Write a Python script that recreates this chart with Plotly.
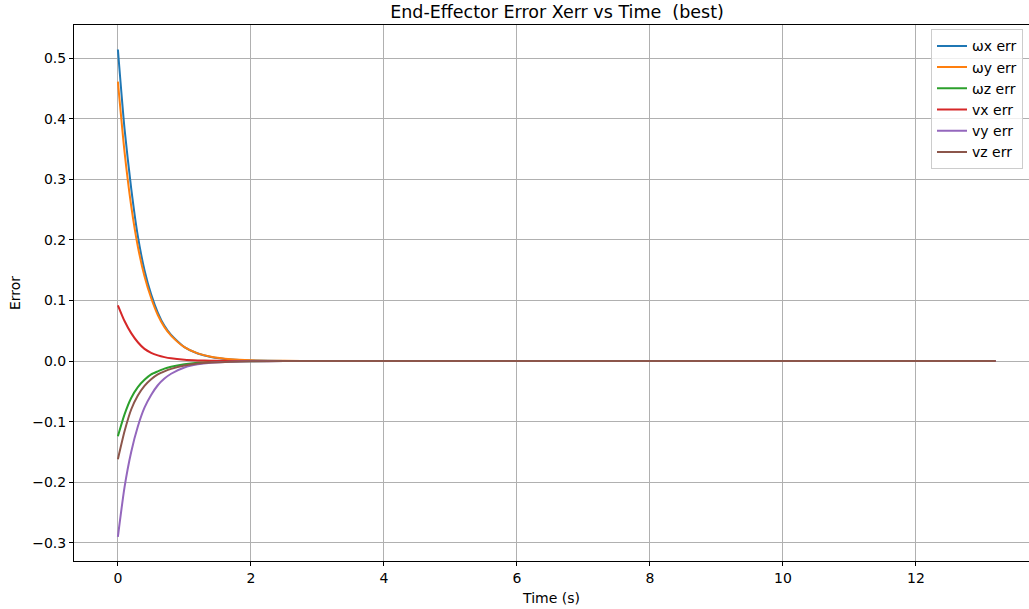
import plotly.graph_objects as go

time_s = [0, 0.1, 0.2, 0.3, 0.4, 0.5, 0.6, 0.7, 0.8, 1.0, 1.2, 1.4, 1.7, 2.0, 2.5, 3.0, 4.0, 6.0, 8.0, 10.0, 12.0, 13.2]

wx_err = [0.514, 0.383, 0.285, 0.206, 0.150, 0.110, 0.080, 0.058, 0.043, 0.023, 0.0124, 0.0067, 0.0026, 0.0010, 0.0002, 0.00005, 0, 0, 0, 0, 0, 0]
wy_err = [0.461, 0.345, 0.256, 0.189, 0.140, 0.104, 0.076, 0.056, 0.042, 0.023, 0.0126, 0.0069, 0.0028, 0.0011, 0.00025, 0.00006, 0, 0, 0, 0, 0, 0]
wz_err = [-0.124, -0.088, -0.061, -0.043, -0.031, -0.022, -0.017, -0.0125, -0.0095, -0.0055, -0.003, -0.0017, -0.0007, -0.0003, -0.00006, 0, 0, 0, 0, 0, 0, 0]
vx_err = [0.092, 0.066, 0.046, 0.031, 0.020, 0.0135, 0.0093, 0.0064, 0.0044, 0.0021, 0.0010, 0.0005, 0.00016, 0.00005, 0, 0, 0, 0, 0, 0, 0, 0]
vy_err = [-0.290, -0.208, -0.150, -0.108, -0.077, -0.056, -0.040, -0.029, -0.021, -0.0107, -0.0055, -0.0029, -0.0011, -0.0004, -0.00008, 0, 0, 0, 0, 0, 0, 0]
vz_err = [-0.162, -0.116, -0.080, -0.057, -0.041, -0.030, -0.022, -0.017, -0.013, -0.0075, -0.0042, -0.0024, -0.0010, -0.0004, -0.0001, 0, 0, 0, 0, 0, 0, 0]

series = [
    ("ωx err", wx_err, "#1f77b4"),
    ("ωy err", wy_err, "#ff7f0e"),
    ("ωz err", wz_err, "#2ca02c"),
    ("vx err", vx_err, "#d62728"),
    ("vy err", vy_err, "#9467bd"),
    ("vz err", vz_err, "#8c564b"),
]

FONT = "DejaVu Sans, sans-serif"

fig = go.Figure()
for name, vals, color in series:
    fig.add_trace(go.Scatter(x=time_s, y=vals, mode="lines", name=name,
                             line=dict(color=color, width=2, shape="spline", smoothing=0.6)))

fig.update_layout(
    width=1029, height=609,
    margin=dict(l=74, r=0, t=25, b=48, autoexpand=False),
    paper_bgcolor="white", plot_bgcolor="white",
    font=dict(family=FONT, size=14, color="black"),
    title=dict(text="End-Effector Error Xerr vs Time  (best)", x=557 / 1029, xanchor="center",
               y=1 - 12 / 609, yanchor="middle", font=dict(size=17.5)),
    xaxis=dict(range=[-0.66, 13.70], tickvals=[0, 2, 4, 6, 8, 10, 12],
               showgrid=True, gridcolor="#b0b0b0", gridwidth=1,
               showline=True, linecolor="black", linewidth=1, mirror=True,
               ticks="outside", ticklen=4, tickcolor="black", zeroline=False, automargin=False,
               tickfont=dict(size=14),
               title=dict(text="Time (s)", standoff=8, font=dict(size=14))),
    yaxis=dict(range=[-0.330, 0.5545], tickvals=[-0.3, -0.2, -0.1, 0, 0.1, 0.2, 0.3, 0.4, 0.5],
               ticktext=["−0.3", "−0.2", "−0.1", "0.0", "0.1", "0.2", "0.3", "0.4", "0.5"],
               showgrid=True, gridcolor="#b0b0b0", gridwidth=1,
               showline=True, linecolor="black", linewidth=1,
               ticks="outside", ticklen=4, tickcolor="black", zeroline=False, automargin=False,
               tickfont=dict(size=14),
               title=dict(text="Error", standoff=8, font=dict(size=14))),
    legend=dict(x=(931 - 74) / 955, y=0.992, xanchor="left", yanchor="top",
                bgcolor="rgba(255,255,255,0.8)", bordercolor="#cccccc", borderwidth=1,
                font=dict(size=14), tracegroupgap=0, itemwidth=30),
    showlegend=True,
)

fig.write_html("out.html", config={"displayModeBar": False},
               post_script="document.body.style.margin='0';")
